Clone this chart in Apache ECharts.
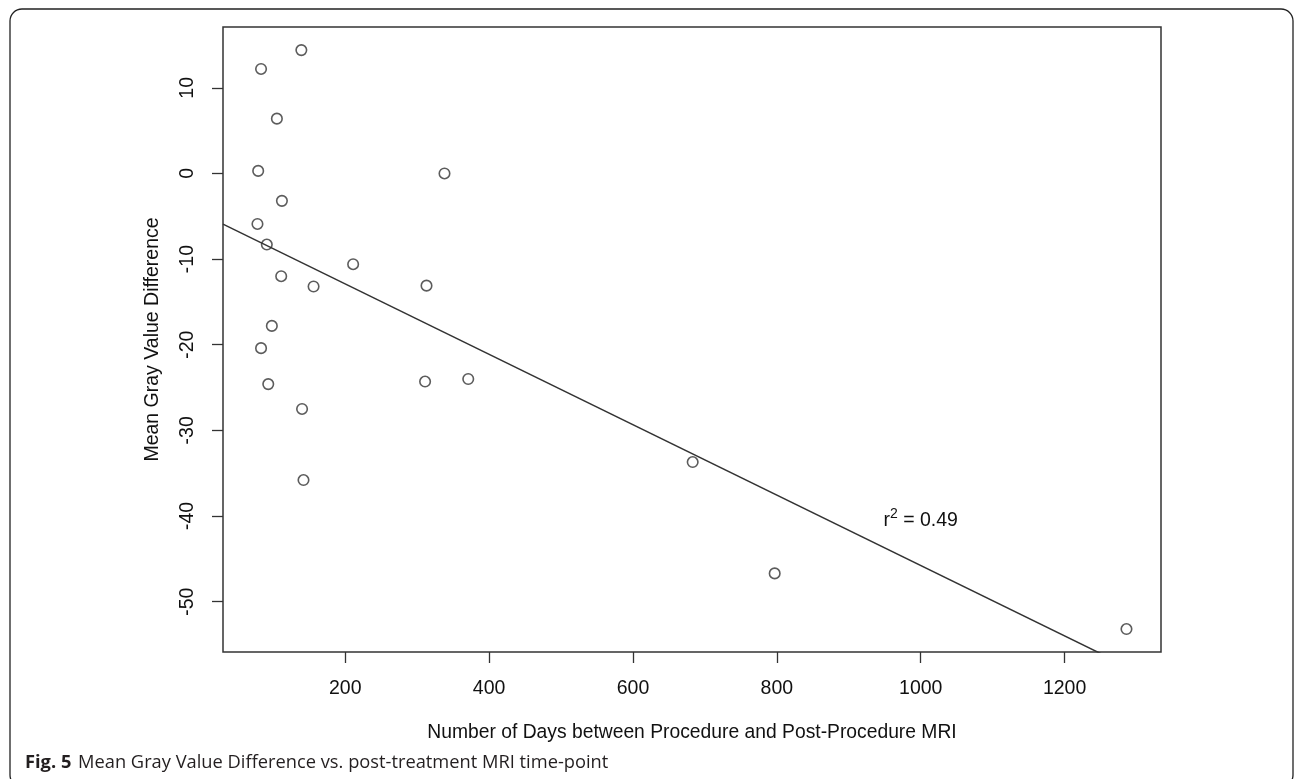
<!DOCTYPE html>
<html>
<head>
<meta charset="utf-8">
<script src="https://cdn.jsdelivr.net/npm/echarts@6/dist/echarts.min.js"></script>
<style>
  html, body { margin: 0; padding: 0; background: #fff; }
  #chart { width: 1296px; height: 779px; }
</style>
</head>
<body>
<div id="chart"></div>
<script>
// days between procedure and post-procedure MRI
const days = [
  139, 83, 105, 79, 338, 112, 78, 91, 111, 156, 211,
  313, 98, 83, 93, 311, 371, 140, 142, 683, 797, 1286
];
// mean gray value difference
const grayDiff = [
  14.4, 12.2, 6.4, 0.3, 0.0, -3.2, -5.9, -8.3, -12.0, -13.2, -10.6,
  -13.1, -17.8, -20.4, -24.6, -24.3, -24.0, -27.5, -35.8, -33.7, -46.7, -53.2
];
const xTicks = [200, 400, 600, 800, 1000, 1200];
const yTicks = [-50, -40, -30, -20, -10, 0, 10];

// fitted regression line
const fitIntercept = -4.68;
const fitSlope = -0.0411;
const rSquared = "0.49";
const labelAt = [1000, -40.5];

// R style 4% padding
const xMin = 30.1, xMax = 1334;
const yMin = -55.88, yMax = 17.1;

const fitLine = [xMin, xMax].map(x => [x, fitIntercept + fitSlope * x]);
const points = days.map((d, i) => [d, grayDiff[i]]);

const font = "'Liberation Sans', Arial, sans-serif";
const ink = "#333";

const chart = echarts.init(document.getElementById("chart"));

const option = {
  animation: false,
  grid: {
    left: 223, right: 135, top: 27, bottom: 127,
    show: true, borderColor: ink, borderWidth: 1.5, backgroundColor: "transparent"
  },
  xAxis: {
    type: "value",
    min: xMin, max: xMax,
    name: "Number of Days between Procedure and Post-Procedure MRI",
    nameLocation: "middle",
    nameGap: 71,
    nameTextStyle: { fontFamily: font, fontSize: 19.3, color: "#111" },
    axisLine: { show: false, onZero: false },
    splitLine: { show: false },
    axisTick: { show: true, length: 11, lineStyle: { color: ink, width: 1.3 }, customValues: xTicks },
    axisLabel: { customValues: xTicks, margin: 27, fontFamily: font, fontSize: 19.5, color: "#111", formatter: v => String(v) }
  },
  yAxis: {
    type: "value",
    min: yMin, max: yMax,
    name: "Mean Gray Value Difference",
    nameLocation: "middle",
    nameGap: 60,
    nameTextStyle: { fontFamily: font, fontSize: 19.5, color: "#111" },
    axisLine: { show: false, onZero: false },
    splitLine: { show: false },
    axisTick: { show: true, length: 11, lineStyle: { color: ink, width: 1.3 }, customValues: yTicks },
    axisLabel: { customValues: yTicks, rotate: 90, margin: 25, fontFamily: font, fontSize: 19.5, color: "#111", formatter: v => String(v) }
  },
  series: [
    {
      type: "scatter",
      data: points,
      symbol: "circle",
      symbolSize: 10.5,
      itemStyle: { color: "rgba(0,0,0,0)", borderColor: ink, borderWidth: 1.6 },
      silent: true
    },
    {
      type: "line",
      data: fitLine,
      showSymbol: false,
      lineStyle: { color: ink, width: 1.5 },
      silent: true
    }
  ]
};
chart.setOption(option);

// r^2 annotation and the figure caption / frame
const lp = chart.convertToPixel({ gridIndex: 0 }, labelAt);
chart.setOption({
  graphic: [
    {
      type: "rect",
      shape: { x: 10, y: 9, width: 1283, height: 778, r: 12 },
      style: { fill: "none", stroke: "#222", lineWidth: 1.3 },
      silent: true
    },
    {
      type: "text",
      x: lp[0], y: lp[1],
      style: {
        text: "{r|r}{s|2}{r| = " + rSquared + "}",
        align: "center", verticalAlign: "middle",
        rich: {
          r: { fontFamily: font, fontSize: 19.5, fill: "#111" },
          s: { fontFamily: font, fontSize: 14, fill: "#111", verticalAlign: "top", padding: [0, 0, 12, 0] }
        }
      }
    },
    {
      type: "text",
      left: 25, top: 754,
      style: {
        text: "{b|Fig. 5}  {n|Mean Gray Value Difference vs. post-treatment MRI time-point}",
        rich: {
          b: { fontFamily: "'Open Sans', sans-serif", fontWeight: "bold", fontSize: 18.3, fill: "#231f20" },
          n: { fontFamily: "'Open Sans', sans-serif", fontSize: 18.3, fill: "#231f20" }
        }
      }
    }
  ]
});
</script>
</body>
</html>
